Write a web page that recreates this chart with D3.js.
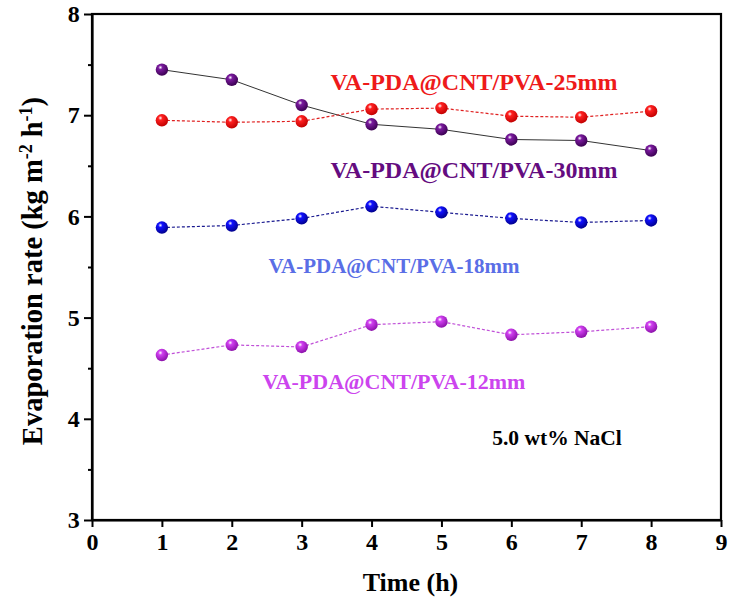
<!DOCTYPE html>
<html><head><meta charset="utf-8">
<script src="https://cdn.jsdelivr.net/npm/d3@7"></script>
<style>body{margin:0;background:#fff}svg{display:block}</style>
</head><body>
<svg id="c" width="729" height="604"></svg>
<script>
const times = [1,2,3,4,5,6,7,8];
const s30 = [7.45,7.35,7.10,6.91,6.86,6.76,6.75,6.65];
const s25 = [6.95,6.93,6.94,7.06,7.07,6.99,6.98,7.04];
const s18 = [5.89,5.91,5.98,6.10,6.04,5.98,5.94,5.96];
const s12 = [4.63,4.73,4.71,4.93,4.96,4.83,4.86,4.91];
const xTicks = [0,1,2,3,4,5,6,7,8,9];
const yTicks = [3,4,5,6,7,8];
const seriesNames = ["VA-PDA@CNT/PVA-30mm","VA-PDA@CNT/PVA-25mm","VA-PDA@CNT/PVA-18mm","VA-PDA@CNT/PVA-12mm"];

const svg = d3.select("#c");
const L=92,R=721,T=14,B=520;
const x = d3.scaleLinear().domain([0,9]).range([L,R]);
const y = d3.scaleLinear().domain([3,8]).range([B,T]);
const font = "'Liberation Serif','Times New Roman',serif";

const defs = svg.append("defs");
function grad(id, base, dark){
  const g = defs.append("radialGradient").attr("id",id).attr("cx","38%").attr("cy","32%").attr("r","70%");
  g.append("stop").attr("offset","0%").attr("stop-color","#ffffff");
  g.append("stop").attr("offset","25%").attr("stop-color",base);
  g.append("stop").attr("offset","100%").attr("stop-color",dark);
}
grad("gp","#7a1a9e","#3a0050");
grad("gr","#ff2020","#c00000");
grad("gb","#1010ff","#00008a");
grad("gm","#d040f0","#8a10a8");

const series = [
  {vals:s30, line:"#333333", dash:null, w:1, fill:"url(#gp)"},
  {vals:s25, line:"#e02020", dash:"3,2", w:1.2, fill:"url(#gr)"},
  {vals:s18, line:"#1a1a90", dash:"3,2", w:1.2, fill:"url(#gb)"},
  {vals:s12, line:"#c050d8", dash:"3,2", w:1.2, fill:"url(#gm)"}
];
const line = d3.line().x((d,i)=>x(times[i])).y(d=>y(d));
series.forEach(s=>{
  svg.append("path").attr("d",line(s.vals)).attr("fill","none")
    .attr("stroke",s.line).attr("stroke-width",s.w).attr("stroke-dasharray",s.dash);
});
series.forEach(s=>{
  svg.append("g").selectAll("circle").data(s.vals).join("circle")
    .attr("cx",(d,i)=>x(times[i])).attr("cy",d=>y(d)).attr("r",6.2).attr("fill",s.fill);
});

// frame
svg.append("rect").attr("x",L).attr("y",T).attr("width",R-L).attr("height",B-T)
  .attr("fill","none").attr("stroke","#000").attr("stroke-width",2.2);

// axes
const xa = svg.append("g").attr("transform",`translate(0,${B})`)
  .call(d3.axisBottom(x).tickValues(xTicks).tickFormat(d3.format("d")).tickSize(7).tickSizeOuter(0));
const ya = svg.append("g").attr("transform",`translate(${L},0)`)
  .call(d3.axisLeft(y).tickValues(yTicks).tickFormat(d3.format("d")).tickSize(8).tickSizeOuter(0));
const yMinor = [3.5,4.5,5.5,6.5,7.5];
svg.append("g").attr("transform",`translate(${L},0)`)
  .call(d3.axisLeft(y).tickValues(yMinor).tickFormat("").tickSize(4).tickSizeOuter(0))
  .call(g=>g.select(".domain").remove());
svg.selectAll(".domain").attr("stroke-width",2.2);
svg.selectAll(".tick line").attr("stroke-width",2);
[xa,ya].forEach(a=>a.selectAll("text").attr("font-family",font).attr("font-weight","bold").attr("font-size",24).attr("fill","#000"));
xa.selectAll("text").attr("dy","0.85em");
ya.selectAll("text").attr("dx","-0.05em");

// axis titles
svg.append("text").attr("x",(L+R)/2+4).attr("y",591).attr("text-anchor","middle")
  .attr("font-family",font).attr("font-weight","bold").attr("font-size",26).text("Time (h)");
const yt = svg.append("text").attr("transform",`translate(42,${(T+B)/2+4}) rotate(-90)`).attr("text-anchor","middle")
  .attr("font-family",font).attr("font-weight","bold").attr("font-size",28.5);
yt.append("tspan").text("Evaporation rate (kg m");
yt.append("tspan").attr("baseline-shift","super").attr("font-size",18).text("-2");
yt.append("tspan").text(" h");
yt.append("tspan").attr("baseline-shift","super").attr("font-size",18).text("-1");
yt.append("tspan").text(")");

// labels
const labels = [
  {t:seriesNames[1], cx:474, cy:82, c:"#ee1a1a", fs:24},
  {t:seriesNames[0], cx:474, cy:170, c:"#640c80", fs:24},
  {t:seriesNames[2], cx:394, cy:266, c:"#5a6ee6", fs:21},
  {t:seriesNames[3], cx:394, cy:381, c:"#cc44ee", fs:22}
];
labels.forEach(l=>{
  svg.append("text").attr("x",l.cx).attr("y",l.cy).attr("dy","0.35em").attr("text-anchor","middle")
    .attr("font-family",font).attr("font-weight","bold").attr("font-size",l.fs).attr("fill",l.c).text(l.t);
});
svg.append("text").attr("x",557).attr("y",437).attr("dy","0.35em").attr("text-anchor","middle")
  .attr("font-family",font).attr("font-weight","bold").attr("font-size",21.5).attr("fill","#000").text("5.0 wt% NaCl");
</script>
</body></html>
